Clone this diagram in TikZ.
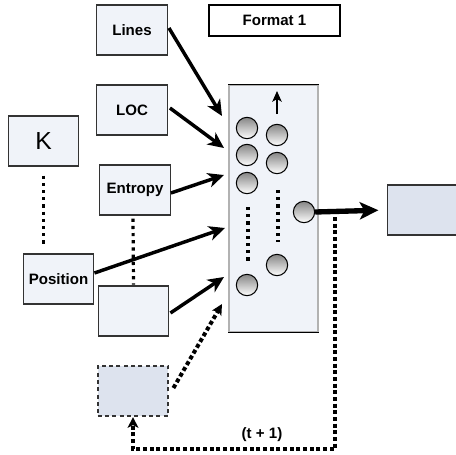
\documentclass[tikz,border=0pt]{standalone}
\usepackage{fontspec}
\setmainfont{Liberation Sans}
\usetikzlibrary{arrows.meta,calc}
\definecolor{boxfill}{HTML}{F0F3F9}
\definecolor{darkfill}{HTML}{DDE3EE}
\begin{document}
\begin{tikzpicture}[x=0.75pt,y=-0.75pt,
 box/.style={draw=black!80,line width=0.9pt,fill=boxfill,minimum width=53pt,minimum height=37.5pt,inner sep=0pt,font=\fontsize{11.3}{13}\selectfont\bfseries},
 neuron/.style={circle,draw=black,line width=0.8pt,minimum size=16pt,inner sep=0pt,top color=gray!95,bottom color=white},
 feed/.style={line width=2.6pt,-{Stealth[length=12pt,width=11pt,inset=3.5pt]}},
 dotv/.style={line width=2.4pt,dash pattern=on 2.4pt off 3pt},
 fbline/.style={line width=3pt,dash pattern=on 3pt off 2pt},
]
\useasboundingbox (0,0) rectangle (456,454);
% main block
\node[draw=gray!60,line width=0.8pt,fill=boxfill,minimum width=66.75pt,minimum height=185.25pt,inner sep=0pt] (main) at (273.5,208.5) {};
\draw[line width=1pt] (main.north west) -- (main.north east);
\draw[line width=1pt] (main.south west) -- (main.south east);
% boxes
\node[box] (Lines) at (132,30) {Lines};
\node[box] (LOC) at (132,110) {LOC};
\node[box,font=\fontsize{18.5}{20}\selectfont] (K) at (43.5,141) {K};
\node[box] (Entropy) at (135,190) {Entropy};
\node[box] (Position) at (58.5,279) {Position};
\node[box] (empty) at (133.5,311) {};
\node[box,fill=darkfill,line width=1.6pt,dash pattern=on 3pt off 2.5pt] (dashed) at (133,391) {};
\node[box,fill=darkfill] (out) at (423,210) {};
\node[draw=black,line width=1.2pt,fill=white,minimum width=98pt,minimum height=23pt,inner sep=0pt,font=\fontsize{11.3}{13}\selectfont\bfseries] (fmt) at (274.5,20.5) {Format 1};
% neurons
\node[neuron] (c1) at (247,128) {};
\node[neuron] (c2) at (247,155) {};
\node[neuron] (c3) at (247,183) {};
\node[neuron] (c4) at (247,285) {};
\node[neuron] (c5) at (277,135) {};
\node[neuron] (c6) at (277,163) {};
\node[neuron] (c7) at (277,265) {};
\node[neuron] (c8) at (304,212) {};
% dots in columns
\coordinate (d1a) at (248,207);
\coordinate (d1b) at (248,262);
\coordinate (d2a) at (278,190);
\coordinate (d2b) at (278,242);
\draw[dotv] (d1a) -- (d1b);
\draw[dotv] (d2a) -- (d2b);
% small arrow
\coordinate (sa1) at (277,114);
\coordinate (sa2) at (277,91);
\draw[line width=1.6pt,-{Stealth[length=8pt,width=7pt,inset=2pt]}] (sa1) -- (sa2);
% input arrows
\coordinate (t1) at (222,116);
\coordinate (t2) at (224,148);
\coordinate (t3) at (224,175);
\coordinate (t4) at (225,228);
\coordinate (t5) at (224,277);
\coordinate (t6) at (222,304);
\draw[feed] ($(Lines.east)+(1,-2)$) -- (t1);
\draw[feed] ($(LOC.east)+(2,-2)$) -- (t2);
\draw[feed] ($(Entropy.east)+(0,3)$) -- (t3);
\draw[feed] ($(Position.east)+(0,-6)$) -- (t4);
\draw[feed] ($(empty.east)+(1,2)$) -- (t5);
% dotted links
\draw[dotv] ($(K.south)+(0,9)$) -- ($(K.south |- Position.north)+(0,-8)$);
\draw[dotv] ($(Entropy.south)+(-2,3)$) -- ($(Entropy.south -| empty.north)+(0,69)$);
% output arrow
\draw[line width=4pt,-{Stealth[length=14pt,width=13pt,inset=3.5pt]},shorten >=6.5pt] (c8.east) -- (out.west);
% feedback
\coordinate (fb0) at (335,217);
\coordinate (fb1) at (335,449);
\coordinate (fb2) at (133,449);
\draw[fbline,-{Stealth[length=8pt,width=8pt,inset=2pt]}] (fb0) -- (fb1) -- (fb2) -- (dashed.south);
\draw[fbline,-{Stealth[length=8pt,width=8pt,inset=2pt]}] ($(dashed.east)+(4,-3)$) -- (t6);
\node[font=\fontsize{11.3}{13}\selectfont\bfseries] (tl) at (262,435) {(t + 1)};
\end{tikzpicture}
\end{document}
